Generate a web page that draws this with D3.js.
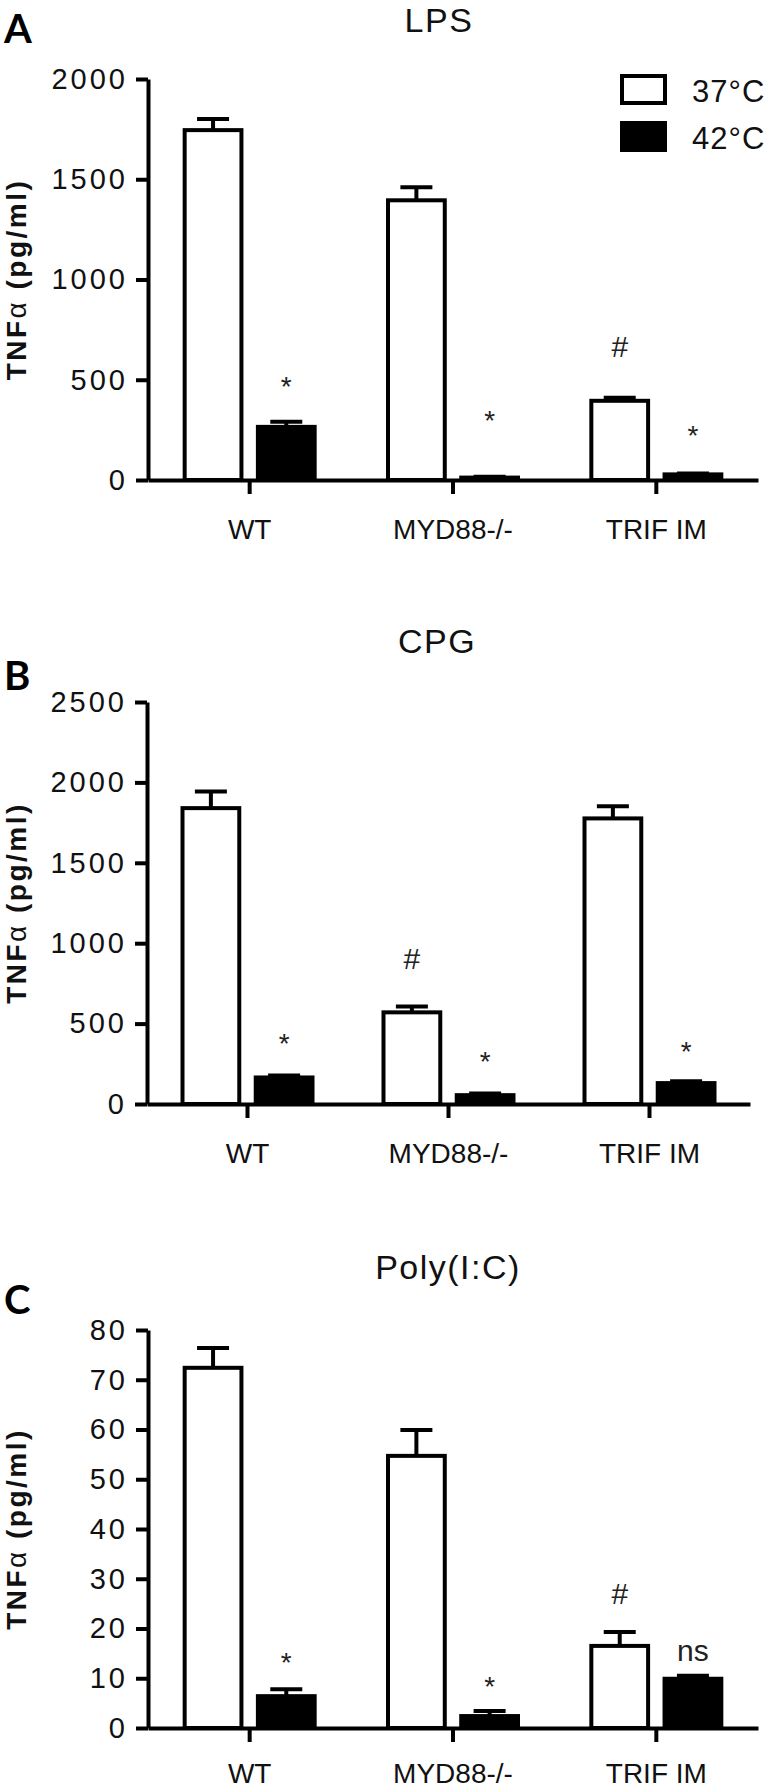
<!DOCTYPE html>
<html>
<head>
<meta charset="utf-8">
<script src="https://cdn.jsdelivr.net/npm/d3@7"></script>
<style>
  body { margin: 0; background: #fff; }
  svg { display: block; }
  text { font-family: "Liberation Sans", Arial, sans-serif; }
  .axis path, .axis line { stroke: #000; stroke-width: 4; }
  .yaxis text { font-size: 29px; fill: #111; letter-spacing: 3px; }
  .xaxis text { font-size: 28px; fill: #111; }
  .ptitle { font-size: 34px; letter-spacing: 1.5px; fill: #111; }
  .pletter { font-family: Lato, "Open Sans", sans-serif; font-weight: 700; font-size: 40px; }
  .ytitle { font-size: 28px; font-weight: bold; letter-spacing: 2.5px; fill: #111; }
  .mark { fill: #222; }
  .legend text { font-size: 31px; fill: #111; letter-spacing: 1px; }
</style>
</head>
<body>
<div id="chart"></div>
<script>
// data
var categories = ["WT", "MYD88-/-", "TRIF IM"]
var series = ["37°C", "42°C"]

// LPS
var lpsTicks = [0, 500, 1000, 1500, 2000]
var lpsMean37 = [1745, 1395, 395]
var lpsSem37 = [55, 65, 15]
var lpsMean42 = [265, 12, 28]
var lpsSem42 = [25, 4, 5]
var lpsMarks = [
  {group: "WT", series: "42°C", text: "*", value: 500},
  {group: "MYD88-/-", series: "42°C", text: "*", value: 330},
  {group: "TRIF IM", series: "37°C", text: "#", value: 670},
  {group: "TRIF IM", series: "42°C", text: "*", value: 255}
]

// CPG
var cpgTicks = [0, 500, 1000, 1500, 2000, 2500]
var cpgMean37 = [1840, 570, 1776]
var cpgSem37 = [104, 36, 75]
var cpgMean42 = [165, 55, 130]
var cpgSem42 = [13, 10, 12]
var cpgMarks = [
  {group: "WT", series: "42°C", text: "*", value: 416},
  {group: "MYD88-/-", series: "37°C", text: "#", value: 907},
  {group: "MYD88-/-", series: "42°C", text: "*", value: 304},
  {group: "TRIF IM", series: "42°C", text: "*", value: 366}
]

// Poly(I:C)
var polyTicks = [0, 10, 20, 30, 40, 50, 60, 70, 80]
var polyMean37 = [72.4, 54.7, 16.5]
var polySem37 = [4.0, 5.2, 2.8]
var polyMean42 = [6.4, 2.4, 9.9]
var polySem42 = [1.4, 1.0, 0.6]
var polyMarks = [
  {group: "WT", series: "42°C", text: "*", value: 14.5},
  {group: "MYD88-/-", series: "42°C", text: "*", value: 9.6},
  {group: "TRIF IM", series: "37°C", text: "#", value: 27.1},
  {group: "TRIF IM", series: "42°C", text: "ns", value: 15.1}
]

function rows(m37, s37, m42, s42) {
  var out = []
  categories.forEach(function(c, i) {
    out.push({group: c, series: series[0], value: m37[i], sem: s37[i]})
    out.push({group: c, series: series[1], value: m42[i], sem: s42[i]})
  })
  return out
}

var panels = [
  {letter: "A", title: "LPS", titleX: 439, titleY: 32, letterY: 43, labelPad: 25,
   max: 2000, ticks: lpsTicks, xRange: [148, 758], yRange: [480, 79],
   data: rows(lpsMean37, lpsSem37, lpsMean42, lpsSem42), marks: lpsMarks},
  {letter: "B", title: "CPG", titleX: 437, titleY: 653, letterY: 690, labelPad: 25,
   max: 2500, ticks: cpgTicks, xRange: [147, 750], yRange: [1104, 702],
   data: rows(cpgMean37, cpgSem37, cpgMean42, cpgSem42), marks: cpgMarks},
  {letter: "C", title: "Poly(I:C)", titleX: 448, titleY: 1279, letterY: 1314, labelPad: 21,
   max: 80, ticks: polyTicks, xRange: [148, 758], yRange: [1728, 1330],
   data: rows(polyMean37, polySem37, polyMean42, polySem42), marks: polyMarks}
]

var svgWidth = 767
var svgHeight = 1789
var stroke = 4

var svg = d3.select("#chart")
  .append("svg")
  .attr("width", svgWidth)
  .attr("height", svgHeight)

svg.append("rect").attr("width", svgWidth).attr("height", svgHeight).attr("fill", "#fff")

var fill = d3.scaleOrdinal().domain(series).range(["#fff", "#000"])
// vertical nudge so each symbol's ink is centred on its value
var markDy = {"*": 16, "#": 11, "ns": 8}
var markSize = {"*": 28, "#": 30, "ns": 30}

panels.forEach(function(p) {
  var g = svg.append("g")

  var x = d3.scaleBand().domain(categories).range(p.xRange)
  var sub = d3.scaleBand().domain(series).range([-67, 67]).paddingInner(0.17)
  var y = d3.scaleLinear().domain([0, p.max]).range(p.yRange)
  var cx = function(d) { return x(d.group) + x.bandwidth() / 2 + sub(d.series) }

  // y axis
  g.append("g")
    .attr("class", "axis yaxis")
    .attr("transform", `translate(${p.xRange[0]},0)`)
    .call(d3.axisLeft(y).tickValues(p.ticks).tickFormat(d3.format("d"))
      .tickSize(12).tickSizeOuter(0).tickPadding(8))

  // bars
  g.selectAll("rect.bar")
    .data(p.data)
    .enter()
    .append("rect")
    .attr("class", "bar")
    .attr("x", d => cx(d) + stroke / 2)
    .attr("width", sub.bandwidth() - stroke)
    .attr("y", d => y(d.value))
    .attr("height", d => y(0) - y(d.value))
    .attr("fill", d => fill(d.series))
    .attr("stroke", "#000")
    .attr("stroke-width", stroke)

  // error bars (upper only)
  var err = g.selectAll("g.err")
    .data(p.data)
    .enter()
    .append("g")
    .attr("class", "err")
    .attr("stroke", "#000")
    .attr("stroke-width", stroke)

  err.append("line")
    .attr("x1", d => cx(d) + sub.bandwidth() / 2)
    .attr("x2", d => cx(d) + sub.bandwidth() / 2)
    .attr("y1", d => y(d.value))
    .attr("y2", d => y(d.value + d.sem))

  err.append("line")
    .attr("x1", d => cx(d) + sub.bandwidth() / 2 - 16)
    .attr("x2", d => cx(d) + sub.bandwidth() / 2 + 16)
    .attr("y1", d => y(d.value + d.sem))
    .attr("y2", d => y(d.value + d.sem))

  // x axis
  g.append("g")
    .attr("class", "axis xaxis")
    .attr("transform", `translate(0,${y(0)})`)
    .call(d3.axisBottom(x).tickSize(14).tickSizeOuter(0).tickPadding(p.labelPad))

  g.selectAll(".axis").attr("font-family", null)

  // significance marks
  g.selectAll("text.mark")
    .data(p.marks)
    .enter()
    .append("text")
    .attr("class", "mark")
    .attr("text-anchor", "middle")
    .attr("x", d => cx(d) + sub.bandwidth() / 2)
    .attr("y", d => y(d.value) + markDy[d.text])
    .style("font-size", d => markSize[d.text] + "px")
    .text(d => d.text)

  // titles
  g.append("text")
    .attr("class", "ptitle")
    .attr("text-anchor", "middle")
    .attr("x", p.titleX)
    .attr("y", p.titleY)
    .text(p.title)

  g.append("text")
    .attr("class", "pletter")
    .attr("x", 4)
    .attr("y", p.letterY)
    .text(p.letter)

  var yt = g.append("text")
    .attr("class", "ytitle")
    .attr("text-anchor", "middle")
    .attr("transform", `translate(26, ${(p.yRange[0] + p.yRange[1]) / 2}) rotate(-90)`)
  yt.append("tspan").text("TNF")
  yt.append("tspan").style("font-weight", "normal").text("α")
  yt.append("tspan").text(" (pg/ml)")
})

// legend (panel A only)
var legend = svg.append("g")
  .attr("class", "legend")
  .selectAll("g")
  .data(series)
  .enter()
  .append("g")
  .attr("transform", (d, i) => `translate(620, ${74 + i * 47})`)

legend.append("rect")
  .attr("x", stroke / 2)
  .attr("y", stroke / 2)
  .attr("width", 47 - stroke)
  .attr("height", 31 - stroke)
  .attr("fill", d => fill(d))
  .attr("stroke", "#000")
  .attr("stroke-width", stroke)

legend.append("text")
  .attr("x", 72)
  .attr("y", 28)
  .text(d => d)
</script>
</body>
</html>
